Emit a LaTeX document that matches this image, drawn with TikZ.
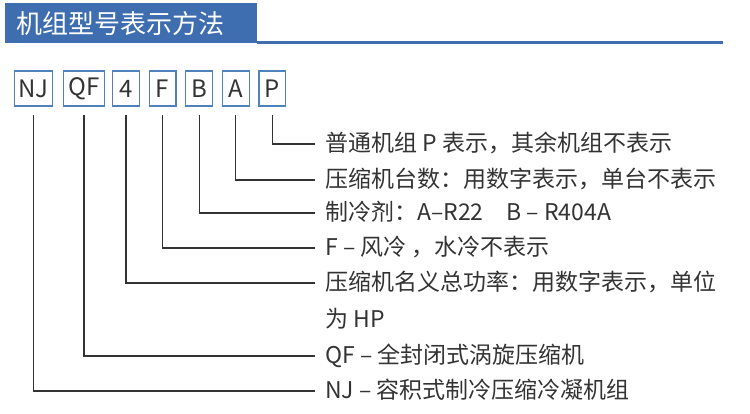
\documentclass[tikz,border=0pt]{standalone}
\usepackage{fontspec}
\newfontfamily\cjk{Noto Sans CJK SC}
\usetikzlibrary{positioning}
\definecolor{headblue}{HTML}{3E6DB0}
\definecolor{boxblue}{HTML}{4F81BD}
\definecolor{txtgray}{HTML}{333333}

\begin{document}
\begin{tikzpicture}[
    x=1pt, y=-1pt,
    node distance=8.6pt,
    codebox/.style={rectangle, draw=boxblue, line width=1.2pt, fill=white, minimum width=26.8pt, minimum height=35pt, inner xsep=2pt, font=\cjk\fontsize{24}{26}\selectfont, text=txtgray},
    desc/.style={anchor=west, inner xsep=10pt, inner ysep=0pt, text height=18pt, text depth=3pt, font=\cjk\fontsize{23}{26}\selectfont, text=txtgray},
    lead/.style={draw=txtgray, line width=1.3pt}
]
    \useasboundingbox (0,0) rectangle (750,414);

    % heading bar
    \fill[headblue] (5,3) rectangle (257,43.5);
    \draw[headblue, line width=3pt] (257,43) -- (723,43);
    \node[anchor=west, inner sep=0pt, text=white, font=\cjk\fontsize{26}{28}\selectfont] (title) at (16,24) {机组型号表示方法};

    % code boxes
    \node[codebox, minimum width=37.8pt] (nj) at (33.5,88.5) {NJ};
    \node[codebox, minimum width=40.8pt, right=10pt of nj] (qf) {QF};
    \node[codebox, right=7pt of qf] (hp) {4};
    \node[codebox, right=of hp] (f) {F};
    \node[codebox, right=of f] (b) {B};
    \node[codebox, right=of b] (a) {A};
    \node[codebox, right=of a] (p) {P};

    % descriptions
    \node[desc] (dp) at (315,144) {普通机组 P 表示，其余机组不表示};
    \node[desc] (da) at (315,180) {压缩机台数：用数字表示，单台不表示};
    \node[desc] (db) at (315,213) {制冷剂：A–R22\quad B – R404A};
    \node[desc] (df) at (315,248) {F – 风冷 ，水冷不表示};
    \node[desc] (dhp) at (315,283) {压缩机名义总功率：用数字表示，单位};
    \node[desc] (dhp2) at (315,320) {为 HP};
    \node[desc] (dqf) at (315,356) {QF – 全封闭式涡旋压缩机};
    \node[desc] (dnj) at (315,391) {NJ – 容积式制冷压缩冷凝机组};

    \foreach \c in {nj,qf,hp,f,b,a,p}
        \draw[lead] ([yshift=-8pt]\c.south) |- (d\c.west);
\end{tikzpicture}
\end{document}
